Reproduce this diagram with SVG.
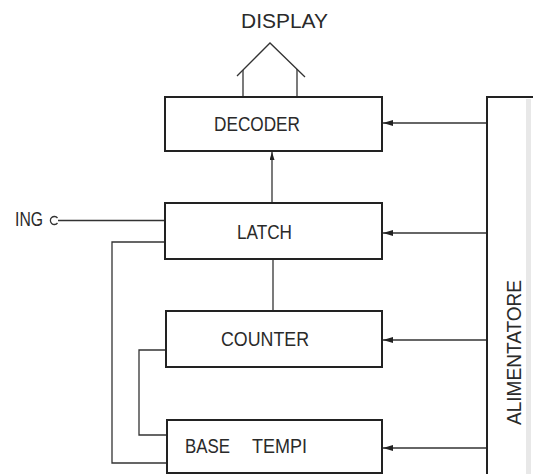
<svg xmlns="http://www.w3.org/2000/svg" width="533" height="474" viewBox="0 0 533 474">
<style>
.box{fill:#fff;stroke:#222;stroke-width:2}
.ln{fill:none;stroke:#333;stroke-width:1.3}
.t{font-family:"Liberation Sans",Arial,sans-serif;font-size:20px;fill:#2a2a2a}
</style>
<defs>
<marker id="ah" markerWidth="10" markerHeight="6" refX="10" refY="3" orient="auto" markerUnits="userSpaceOnUse">
<path d="M0,0 L10,3 L0,6 Z" fill="#222"/>
</marker>
<marker id="ahs" markerWidth="8" markerHeight="5" refX="8" refY="2.5" orient="auto" markerUnits="userSpaceOnUse">
<path d="M0,0 L8,2.5 L0,5 Z" fill="#222"/>
</marker>
</defs>
<rect width="533" height="474" fill="#fff"/>
<g id="connectors">
<polyline class="ln" points="237,76 270,43 305,77"/>
<line class="ln" x1="243" y1="70" x2="243" y2="97"/>
<line class="ln" x1="297" y1="69" x2="297" y2="97"/>
<line class="ln" x1="272" y1="203" x2="272" y2="152" marker-end="url(#ahs)"/>
<line class="ln" x1="273" y1="259" x2="273" y2="311"/>
<path d="M57.5,218 A4,4 0 1 0 57.5,223" fill="none" stroke="#333" stroke-width="1.3"/>
<line class="ln" x1="58" y1="220.5" x2="165" y2="220.5"/>
<polyline class="ln" points="165,242 112,242 112,463 167,463"/>
<polyline class="ln" points="166,350 139,350 139,435 167,435"/>
<line class="ln" x1="487" y1="123" x2="383" y2="123" marker-end="url(#ah)"/>
<line class="ln" x1="487" y1="233" x2="383" y2="233" marker-end="url(#ah)"/>
<line class="ln" x1="487" y1="340" x2="383" y2="340" marker-end="url(#ah)"/>
<line class="ln" x1="487" y1="448" x2="383" y2="448" marker-end="url(#ah)"/>
</g>
<g id="display">
<text class="t" x="241" y="28" font-size="18" textLength="87" lengthAdjust="spacingAndGlyphs">DISPLAY</text>
</g>
<g id="ing">
<text class="t" x="15" y="226" font-size="18" textLength="28" lengthAdjust="spacingAndGlyphs">ING</text>
</g>
<g id="decoder">
<rect class="box" x="165" y="97" width="217" height="54"/>
<text class="t" x="214" y="131" textLength="86" lengthAdjust="spacingAndGlyphs">DECODER</text>
</g>
<g id="latch">
<rect class="box" x="165" y="203" width="217" height="56"/>
<text class="t" x="237" y="239" textLength="55" lengthAdjust="spacingAndGlyphs">LATCH</text>
</g>
<g id="counter">
<rect class="box" x="166" y="311" width="216" height="56"/>
<text class="t" x="221" y="346" textLength="88" lengthAdjust="spacingAndGlyphs">COUNTER</text>
</g>
<g id="base-tempi">
<rect class="box" x="167" y="420" width="215" height="53"/>
<text class="t" y="453"><tspan x="185" textLength="45" lengthAdjust="spacingAndGlyphs">BASE</tspan> <tspan x="252" textLength="55" lengthAdjust="spacingAndGlyphs">TEMPI</tspan></text>
</g>
<g id="alimentatore">
<path d="M487,474 L487,97 L533,97" fill="none" stroke="#222" stroke-width="2"/>
<rect x="526" y="99" width="5" height="375" fill="#e8e8e8"/>
<text class="t" transform="translate(521,425) rotate(-90)" x="0" y="0" textLength="145" lengthAdjust="spacingAndGlyphs">ALIMENTATORE</text>
</g>
</svg>
